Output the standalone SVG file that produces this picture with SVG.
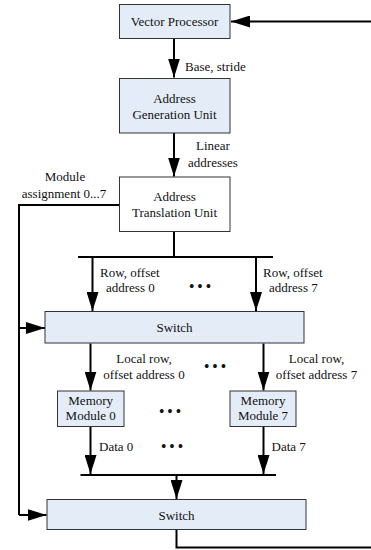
<svg xmlns="http://www.w3.org/2000/svg" width="371" height="550" viewBox="0 0 371 550">
<defs>
<marker id="ah" markerUnits="userSpaceOnUse" markerWidth="19" markerHeight="12" refX="19" refY="6" orient="auto">
<path d="M0,0 L19,6 L0,12 Z" fill="#000"/>
</marker>
<style>
.box{fill:#E4ECF7;stroke:#333;stroke-width:1}
.wbox{fill:#fff;stroke:#333;stroke-width:1}
.ln{fill:none;stroke:#000;stroke-width:2}
.arr{fill:none;stroke:#000;stroke-width:2;marker-end:url(#ah)}
.t{font-family:"Liberation Serif","DejaVu Serif",serif;font-size:13px;fill:#111}
.c{text-anchor:middle}
.dots{font-size:14px;font-weight:bold}
</style>
</defs>
<rect width="371" height="550" fill="#fff"/>
<g id="connectors">
<path class="arr" d="M375,21.5 H231"/>
<path class="arr" d="M174,38 V77.5"/>
<path class="arr" d="M174,133 V176.5"/>
<path class="ln" d="M174,232 V257"/>
<path class="ln" d="M78,257 H273"/>
<path class="arr" d="M92.5,257 V311"/>
<path class="arr" d="M256,257 V311"/>
<path class="ln" d="M119.5,205 H19 V515"/>
<path class="arr" d="M19,328 H45"/>
<path class="arr" d="M19,515 H46.5"/>
<path class="arr" d="M90.5,343.5 V390.5"/>
<path class="arr" d="M263.5,343.5 V390.5"/>
<path class="arr" d="M90.5,427 V474"/>
<path class="arr" d="M263.5,427 V474"/>
<path class="ln" d="M80.5,475 H276"/>
<path class="arr" d="M176.5,475 V499"/>
<path class="ln" d="M176.5,529.5 V547.5 H375"/>
<text class="t" x="185" y="71">Base, stride</text>
<text class="t c" x="213" y="150">Linear</text>
<text class="t c" x="213" y="166.5">addresses</text>
<text class="t c" x="65" y="181">Module</text>
<text class="t c" x="64" y="197.5">assignment 0...7</text>
<text class="t" x="100" y="276.5">Row, offset</text>
<text class="t" x="106" y="292">address 0</text>
<text class="t" x="263" y="276.5">Row, offset</text>
<text class="t" x="269" y="292">address 7</text>
<text class="t c dots" x="200" y="291">• • •</text>
<text class="t c" x="144" y="363">Local row,</text>
<text class="t c" x="144" y="378.5">offset address 0</text>
<text class="t c" x="316.5" y="363">Local row,</text>
<text class="t c" x="316.5" y="378.5">offset address 7</text>
<text class="t c dots" x="215" y="370.5">• • •</text>
<text class="t c dots" x="170" y="416">• • •</text>
<text class="t" x="99" y="451">Data 0</text>
<text class="t" x="271.5" y="451">Data 7</text>
<text class="t c dots" x="172" y="450.5">• • •</text>
</g>
<g id="vector-processor">
<rect class="box" x="119.5" y="4.5" width="110.5" height="34"/>
<text class="t c" x="174.5" y="26">Vector Processor</text>
</g>
<g id="agu">
<rect class="box" x="119.5" y="78.5" width="110.5" height="54.5"/>
<text class="t c" x="174.5" y="102.5">Address</text>
<text class="t c" x="174.5" y="118.5">Generation Unit</text>
</g>
<g id="atu">
<rect class="wbox" x="119.5" y="177" width="110.5" height="54.5"/>
<text class="t c" x="174.5" y="201">Address</text>
<text class="t c" x="174.5" y="216.5">Translation Unit</text>
</g>
<g id="switch1">
<rect class="box" x="45" y="311.5" width="259" height="31.5"/>
<text class="t c" x="174.5" y="332">Switch</text>
</g>
<g id="mem0">
<rect class="box" x="57.5" y="391" width="66.5" height="35.5"/>
<text class="t c" x="90.7" y="405">Memory</text>
<text class="t c" x="90.7" y="420">Module 0</text>
</g>
<g id="mem7">
<rect class="box" x="230" y="391" width="66" height="35.5"/>
<text class="t c" x="263" y="405">Memory</text>
<text class="t c" x="263" y="420">Module 7</text>
</g>
<g id="switch2">
<rect class="box" x="47" y="499.5" width="259" height="30"/>
<text class="t c" x="176.5" y="519.5">Switch</text>
</g>
</svg>
